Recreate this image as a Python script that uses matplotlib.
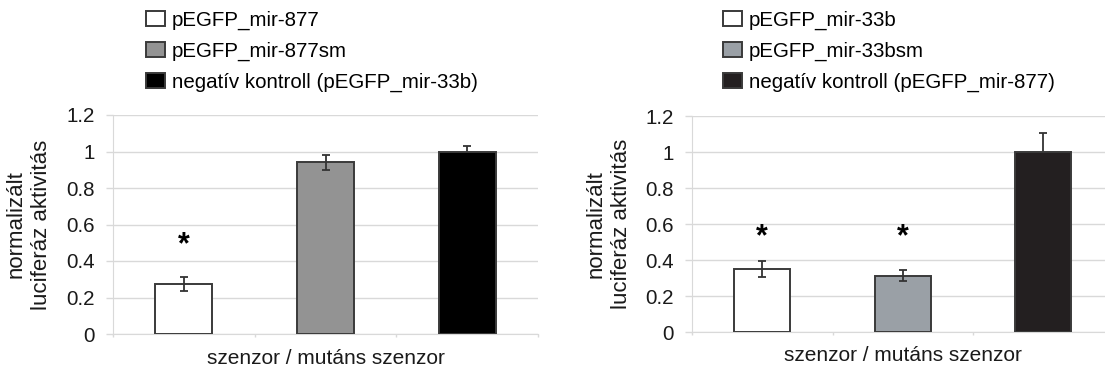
import matplotlib
matplotlib.use('Agg')
import numpy as np
import matplotlib.pyplot as plt
import matplotlib.transforms as mtransforms

plt.rcParams['font.family'] = ['Liberation Sans', 'DejaVu Sans']

# data
labels_left = ['pEGFP_mir-877', 'pEGFP_mir-877sm', 'negatív kontroll (pEGFP_mir-33b)']
values_left = [0.274, 0.94, 1.0]
errors_left = [0.037, 0.039, 0.03]
stars_left = [True, False, False]

labels_right = ['pEGFP_mir-33b', 'pEGFP_mir-33bsm', 'negatív kontroll (pEGFP_mir-877)']
values_right = [0.35, 0.313, 1.0]
errors_right = [0.046, 0.03, 0.106]
stars_right = [True, True, False]

ylabel = 'normalizált\nluciferáz aktivitás'
xlabel = 'szenzor / mutáns szenzor'
yticks = [0, 0.2, 0.4, 0.6, 0.8, 1.0, 1.2]
ytick_labels = ['0', '0.2', '0.4', '0.6', '0.8', '1', '1.2']

colors_left = ['white', '#939393', '#000000']
colors_right = ['white', '#9aa0a6', '#231f20']

GRID = '#d9d9d9'
TEXT = '#1a1a1a'

W, H = 1105, 369
fig = plt.figure(figsize=(W / 100, H / 100), dpi=100)


def px_axes(x0, x1, y_top, y_bot):
    return fig.add_axes([x0 / W, (H - y_bot) / H, (x1 - x0) / W, (y_bot - y_top) / H])


def draw_panel(ax, values, errors, stars, colors, labels, star_y, legend_x):
    x = np.arange(len(values))
    bars = ax.bar(x, values, width=0.4, color=colors, edgecolor='#3a3a3a',
                  linewidth=1.4, zorder=3)
    # error bars: on dark bars the lower half disappears behind the bar
    for xi, v, e, c in zip(x, values, errors, colors):
        dark = c.startswith('#') and int(c[1:3], 16) < 0x50
        ax.errorbar(xi, v, yerr=e, fmt='none', ecolor='#333333',
                    elinewidth=1.3, capsize=3.2, capthick=1.3,
                    zorder=2.5 if dark else 4)
    for xi, s in zip(x, stars):
        if s:
            ax.text(xi, star_y, '*', ha='center', va='center', fontsize=22,
                    fontweight='bold', color='black', zorder=5)

    ax.set_ylim(0, 1.2)
    ax.set_xlim(-0.5, 2.5)
    ax.set_yticks(yticks)
    ax.set_yticklabels(ytick_labels, fontsize=14.8, color=TEXT)
    ax.yaxis.grid(True, color=GRID, linewidth=1.0, zorder=0)
    ax.set_axisbelow(True)
    ax.tick_params(axis='y', direction='out', length=5, width=1.0, color=GRID, pad=8)
    ax.set_xticks([])
    ax.set_xticks([-0.5, 0.5, 1.5, 2.5], minor=True)
    ax.tick_params(axis='x', which='minor', direction='out', length=2.5, width=1.0,
                   color=GRID)
    for side in ['top', 'right']:
        ax.spines[side].set_visible(False)
    ax.spines['left'].set_color(GRID)
    ax.spines['bottom'].set_color(GRID)

    ax.text(-0.198, 0.5, ylabel, transform=ax.transAxes, rotation=90,
            ha='center', va='center', multialignment='center', fontsize=16,
            linespacing=1.3, color=TEXT)
    trans = mtransforms.blended_transform_factory(ax.transData, ax.transAxes)
    ax.text(1, -0.136, xlabel, transform=trans, ha='center', va='baseline',
            fontsize=15, color=TEXT)

    ax.legend(bars, labels, loc='upper left', bbox_to_anchor=(legend_x, 0.971),
              bbox_transform=fig.transFigure, frameon=False, fontsize=14.8,
              handlelength=0.9, handleheight=0.8, handletextpad=0.35,
              labelspacing=0.57, borderpad=0, borderaxespad=0)
    return bars


ax1 = px_axes(113, 538, 115, 334)
draw_panel(ax1, values_left, errors_left, stars_left, colors_left, labels_left,
           0.484, 146 / W)

ax2 = px_axes(692, 1113.5, 116, 332)
draw_panel(ax2, values_right, errors_right, stars_right, colors_right, labels_right,
           0.526, 723 / W)

fig.savefig('out.png', dpi=100)
